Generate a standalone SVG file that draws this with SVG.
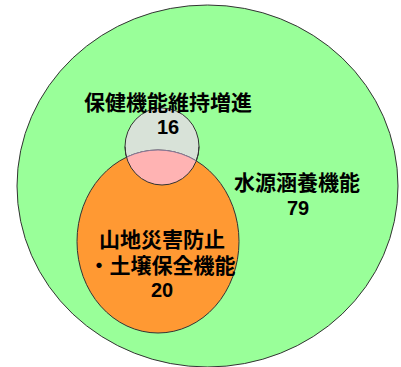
<svg xmlns="http://www.w3.org/2000/svg" width="401" height="367" viewBox="0 0 401 367">
<style>
.lbl{font-family:"Liberation Sans","Noto Sans CJK JP",sans-serif;font-weight:bold;font-size:21px;fill:#000;text-anchor:middle}
.num{font-family:"Liberation Sans","Noto Sans CJK JP",sans-serif;font-weight:bold;font-size:20px;fill:#000;text-anchor:middle}
.edge{stroke:#333;stroke-width:1}
</style>
<defs>
<clipPath id="grayClip"><ellipse cx="162" cy="146.5" rx="37" ry="38.5"/></clipPath>
</defs>
<rect width="401" height="367" fill="#fff"/>
<g id="water">
<ellipse class="edge" cx="207.5" cy="186" rx="190.5" ry="181" fill="#99FF99"/>
<text class="lbl" x="297" y="190">水源涵養機能</text>
<text class="num" x="298" y="215">79</text>
</g>
<g id="health">
<ellipse class="edge" cx="162" cy="146.5" rx="37" ry="38.5" fill="#D8E2D8"/>
</g>
<g id="disaster">
<ellipse class="edge" cx="158" cy="241.5" rx="81" ry="91.5" fill="#FF9933"/>
<ellipse cx="158" cy="241.5" rx="81" ry="91.5" fill="#FFB3B3" stroke="#8a7a9a" stroke-width="1" clip-path="url(#grayClip)"/>
<path d="M125 146.5 A37 38.5 0 0 0 199 146.5" fill="none" stroke="#333" stroke-width="1"/>
<text class="lbl" x="162" y="247">山地災害防止</text>
<text class="lbl" x="162" y="273">・土壌保全機能</text>
<text class="num" x="162" y="297">20</text>
</g>
<g id="health-label">
<text class="lbl" x="168" y="110">保健機能維持増進</text>
<text class="num" x="168" y="134">16</text>
</g>
<g id="connectors"></g>
</svg>
